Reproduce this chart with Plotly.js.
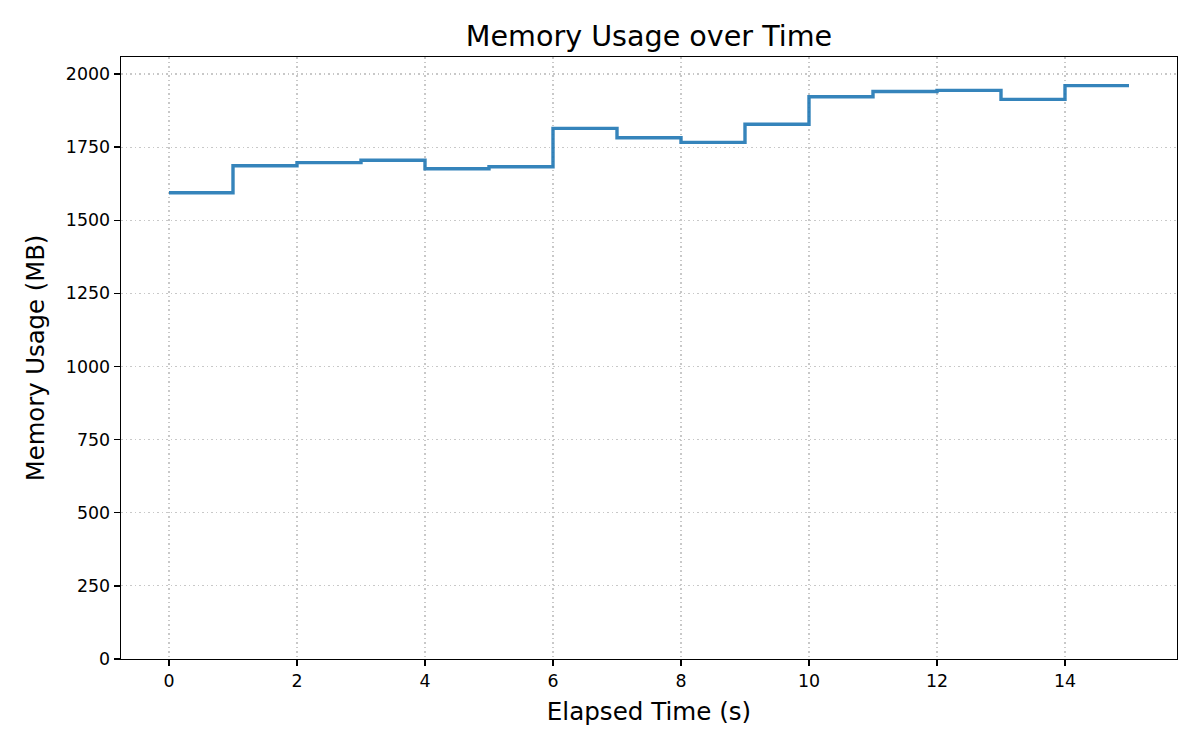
<!DOCTYPE html>
<html>
<head>
<meta charset="utf-8">
<script src="https://cdn.plot.ly/plotly-3.0.1.min.js"></script>
<style>
  html, body { margin: 0; padding: 0; background: #ffffff; }
  #chart { width: 1200px; height: 750px; }
</style>
</head>
<body>
<div id="chart"></div>
<script>
// Elapsed time (s) and memory usage (MB)
const elapsedTime = [0, 1, 2, 3, 4, 5, 6, 7, 8, 9, 10, 11, 12, 13, 14, 15];
const memoryUsage = [1594, 1686, 1697, 1705, 1676, 1683, 1814, 1782, 1766, 1828, 1922, 1940, 1944, 1913, 1960, 1960];
const xTickValues = [0, 2, 4, 6, 8, 10, 12, 14];
const yTickValues = [0, 250, 500, 750, 1000, 1250, 1500, 1750, 2000];

const FONT = "DejaVu Sans, Verdana, sans-serif";

const trace = {
  x: elapsedTime,
  y: memoryUsage,
  type: "scatter",
  mode: "lines",
  line: { shape: "hv", color: "rgba(31,119,180,0.9)", width: 3.4 },
  hoverinfo: "x+y",
  showlegend: false
};

const axisCommon = {
  showline: true,
  mirror: true,
  linecolor: "#000000",
  linewidth: 1.4,
  ticks: "outside",
  ticklen: 6,
  tickwidth: 1.4,
  tickcolor: "#000000",
  showgrid: true,
  gridcolor: "#c8c8c8",
  gridwidth: 1.2,
  griddash: "1.5px,3px",
  zeroline: false,
  tickfont: { family: FONT, size: 17.4, color: "#000000" }
};

const layout = {
  width: 1200,
  height: 750,
  paper_bgcolor: "#ffffff",
  plot_bgcolor: "#ffffff",
  margin: { l: 121, r: 23, t: 57, b: 91, pad: 0 },
  font: { family: FONT, color: "#000000" },
  title: {
    text: "Memory Usage over Time",
    font: { family: FONT, size: 28.6, color: "#000000" },
    x: 0.5,
    xanchor: "center",
    xref: "paper",
    yref: "container",
    y: 0.952,
    yanchor: "middle"
  },
  xaxis: Object.assign({}, axisCommon, {
    range: [-0.75, 15.75],
    tickmode: "array",
    tickvals: xTickValues,
    ticktext: xTickValues.map(String),
    title: { text: "Elapsed Time (s)", font: { family: FONT, size: 24.6, color: "#000000" }, standoff: 12 }
  }),
  yaxis: Object.assign({}, axisCommon, {
    range: [0, 2058],
    tickmode: "array",
    tickvals: yTickValues,
    ticktext: yTickValues.map(String),
    title: { text: "Memory Usage (MB)", font: { family: FONT, size: 24.3, color: "#000000" }, standoff: 14 }
  })
};

Plotly.newPlot("chart", [trace], layout, { displayModeBar: false, staticPlot: true });
</script>
</body>
</html>
